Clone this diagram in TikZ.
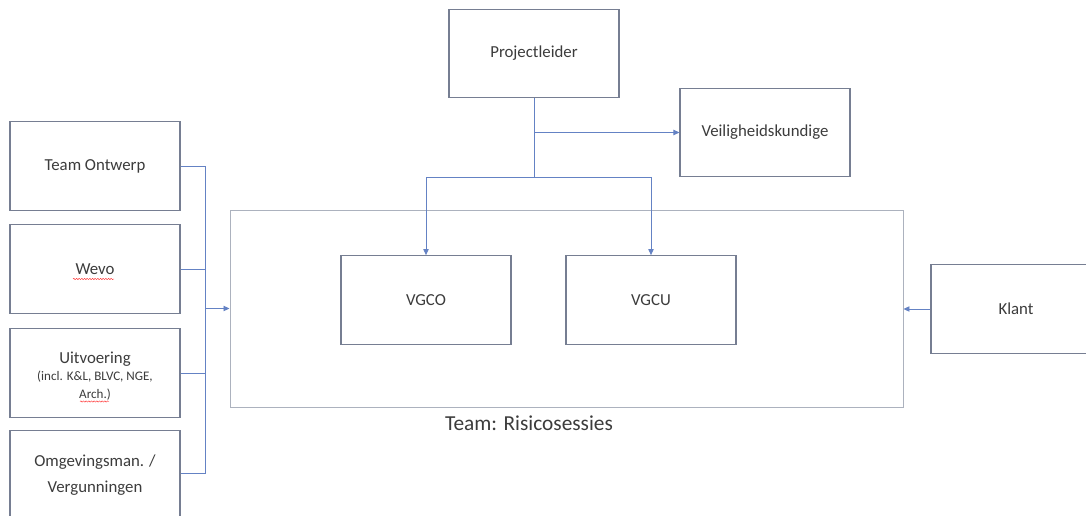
\documentclass[tikz,border=0pt]{standalone}
\usepackage{fontspec}
\setmainfont{Carlito}
\usetikzlibrary{arrows.meta,decorations.pathmorphing}
\definecolor{boxline}{RGB}{118,126,146}
\definecolor{conn}{RGB}{100,130,196}
\definecolor{bigline}{RGB}{172,178,190}
\definecolor{txt}{RGB}{60,60,60}
\tikzset{
  box/.style={draw=boxline, line width=0.8pt, fill=white, inner sep=2pt, align=center,
    minimum width=127.5pt, minimum height=66.5pt, text=txt, font=\fontsize{12.6}{15}\selectfont},
  bigbox/.style={draw=bigline, line width=0.7pt, minimum width=504.75pt, minimum height=147.75pt, inner sep=0pt},
  link/.style={draw=conn, line width=0.6pt},
  arr/.style={link, -{Triangle[length=4.5pt,width=4pt]}},
  squig/.style={draw=red!80!white, line width=0.35pt, decorate, decoration={snake, amplitude=0.5pt, segment length=2pt}}
}
\begin{document}
\begin{tikzpicture}[x=0.75pt,y=-0.75pt]
\useasboundingbox (0,0) rectangle (1086,516);
\clip (0,0) rectangle (1086,516);
\fill[white] (0,0) rectangle (1086,516);
% team box
\node[bigbox] (team) at (566.5,308.5) {};
\node[text=txt, font=\fontsize{16}{19}\selectfont, anchor=center] (teamlbl) at (529,423) {Team: Risicosessies};
% top
\node[box] (pl) at (534,53.5) {Projectleider};
\node[box] (vk) at (765,132.5) {Veiligheidskundige};
% inner
\node[box] (vgco) at (426,300) {VGCO};
\node[box] (vgcu) at (651,300) {VGCU};
% left
\node[box] (to) at (95,166) {Team Ontwerp};
\node[box] (we) at (95,269) {Wevo};
\node[box, text height=10pt] (ui) at (95,373) {};
\node[text=txt, align=center, font=\fontsize{12.6}{15}\selectfont, inner sep=0pt] (uit) at (95,376) {Uitvoering\\[-2pt]{\fontsize{9.8}{11}\selectfont (incl. K\&L, BLVC, NGE,}\\[-2pt]{\fontsize{9.8}{11}\selectfont Arch.)}};
\node[box] (om) at (95,475) {Omgevingsman. /\\[4pt]Vergunningen};
% right
\node[box] (kl) at (1016,309) {Klant};
% spell-check squiggles
\coordinate (sq1a) at (73,279); \coordinate (sq1b) at (114,279);
\coordinate (sq2a) at (80,401.5); \coordinate (sq2b) at (109,401.5);
\draw[squig] (sq1a) -- (sq1b);
\draw[squig] (sq2a) -- (sq2b);
% left bus
\coordinate (bt) at (205,166);
\coordinate (bb) at (205,473);
\draw[link] (to.east) -- (bt) -- (bb) -- (om.east |- bb);
\draw[link] (we.east) -- (we.east -| bt);
\draw[link] (ui.east) -- (ui.east -| bt);
\draw[arr] (bt |- team.west) -- (team.west);
% project leader tree
\coordinate (split) at (534,177);
\draw[link] (pl.south) -- (split);
\draw[arr] (pl.south |- vk.west) -- (vk.west);
\draw[arr] (split) -| (vgco.north);
\draw[arr] (split) -| (vgcu.north);
% client
\draw[arr] (kl.west) -- (kl.west -| team.east);
\end{tikzpicture}
\end{document}
